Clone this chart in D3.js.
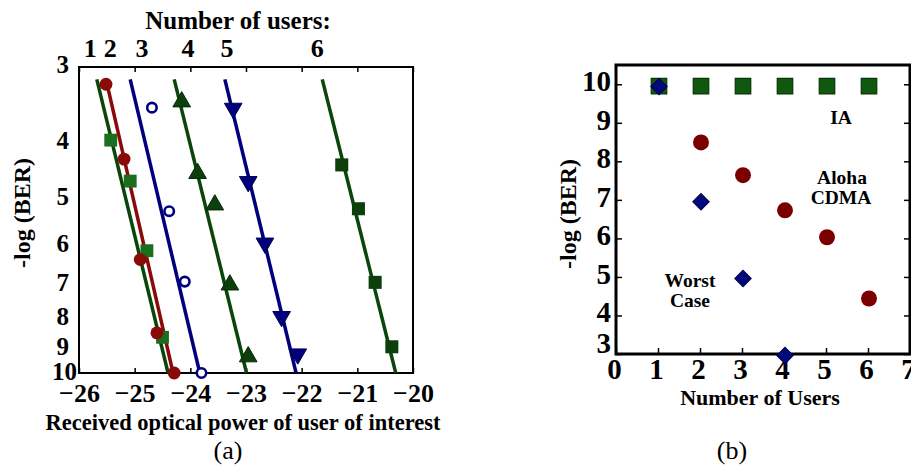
<!DOCTYPE html>
<html><head><meta charset="utf-8">
<script src="https://cdn.jsdelivr.net/npm/d3@7"></script>
<style>
body{margin:0;background:#fff}
text{font-family:"Liberation Serif","Times New Roman",serif;font-weight:bold;fill:#000}
</style></head>
<body><svg id="c" width="911" height="468"></svg>
<script>
// ---------- Panel (a) data ----------
const leftXTicks = [-26,-25,-24,-23,-22,-21,-20];
const leftYTicks = [3,4,5,6,7,8,9,10];
const userLabels = ["1","2","3","4","5","6"];
const userLabelPos = [-25.80,-25.44,-24.87,-24.04,-23.34,-21.72];
const lineUsers = [1,2,3,4,5,6];
const lineTopX = [-25.68,-25.515,-25.08,-24.29,-23.38,-21.63];
const lineBottomX = [-24.40,-24.31,-23.83,-22.99,-22.10,-20.31];
const lineYRange = [3.15,10];
const u1X = [-25.43,-25.08,-24.78,-24.50];
const u1Y = [4.0,4.70,6.18,8.69];
const u2X = [-25.515,-25.19,-24.90,-24.60,-24.29];
const u2Y = [3.21,4.31,6.40,8.54,10];
const u3X = [-24.69,-24.38,-24.10,-23.80];
const u3Y = [3.52,5.29,6.98,10];
const u4X = [-24.155,-23.87,-23.56,-23.29,-22.96];
const u4Y = [3.44,4.56,5.16,7.07,9.38];
const u5X = [-23.23,-22.96,-22.66,-22.36,-22.07];
const u5Y = [3.53,4.71,6.0,8.01,9.28];
const u6X = [-21.28,-20.98,-20.68,-20.38];
const u6Y = [4.41,5.24,7.0,9.02];

// ---------- Panel (b) data ----------
const rightXTicks = [0,1,2,3,4,5,6,7];
const rightYTicks = [3,4,5,6,7,8,9,10];
const iaX = [1,2,3,4,5,6];
const iaY = [9.95,9.95,9.95,9.95,9.95,9.95];
const alohaX = [2,3,4,5,6];
const alohaY = [8.49,7.64,6.73,6.03,4.44];
const worstX = [1,2,3,4];
const worstY = [9.94,6.95,4.96,2.96];

const GREEN_LINE = "#0a450a", GREEN_LIGHT = "#1b6e1b", GREEN_DARK = "#0b3f0b";
const RED = "#8a0a0a", BLUE = "#00007d";

const svg = d3.select("#c");

// ================= Panel (a) =================
const xL = d3.scaleLinear().domain([-26,-20]).range([79,413]);
const yL = d3.scaleLog().domain([3,10]).range([67,373]);
const gA = svg.append("g");

const axB = gA.append("g").attr("transform","translate(0,373)")
  .call(d3.axisBottom(xL).tickValues(leftXTicks).tickFormat(d3.format("d")).tickSizeInner(-5).tickSizeOuter(0).tickPadding(11));
axB.selectAll("text").style("font-size","26px");
gA.append("g").attr("transform","translate(0,67)")
  .call(d3.axisTop(xL).tickValues(leftXTicks).tickFormat("").tickSizeInner(-5).tickSizeOuter(0));
gA.append("g").attr("transform","translate(79,0)")
  .call(d3.axisLeft(yL).tickValues(leftYTicks).tickFormat(d3.format("d")).tickSize(0).tickPadding(10))
  .selectAll("text").style("font-size","25px")
  .attr("dx",d=>d===10?"8":"0").attr("dy",d=>d===10?"0.24em":(d===3?"0.2em":"0.32em"));
gA.selectAll(".domain").remove();
gA.selectAll(".tick line").attr("stroke","#000").attr("stroke-width",1.5);
gA.append("rect").attr("x",79).attr("y",67).attr("width",334).attr("height",306)
  .attr("fill","none").attr("stroke","#000").attr("stroke-width",2);

const lineColors = [GREEN_LINE,RED,BLUE,GREEN_LINE,BLUE,GREEN_LINE];
lineUsers.forEach((u,i)=>{
  gA.append("line")
    .attr("x1",xL(lineTopX[i])).attr("y1",yL(lineYRange[0]))
    .attr("x2",xL(lineBottomX[i])).attr("y2",yL(lineYRange[1]))
    .attr("stroke",lineColors[i]).attr("stroke-width",3.5);
});

function sym(g, xs, ys, type, size, fill, stroke, sw, rot){
  g.selectAll(null).data(xs.map((x,i)=>[x,ys[i]])).enter().append("path")
    .attr("d", d3.symbol().type(type).size(size)())
    .attr("transform", d=>`translate(${xL(d[0])},${yL(d[1])})${rot?` rotate(${rot})`:""}`)
    .attr("fill",fill).attr("stroke",stroke).attr("stroke-width",sw);
}
sym(gA,u1X,u1Y,d3.symbolSquare,165,GREEN_LIGHT,"none",0);
sym(gA,u2X,u2Y,d3.symbolCircle,130,RED,"none",0);
sym(gA,u3X,u3Y,d3.symbolCircle,70,"#fff",BLUE,2.6);
sym(gA,u4X,u4Y,d3.symbolTriangle,135,GREEN_DARK,"#062a06",1);
sym(gA,u5X,u5Y,d3.symbolTriangle,135,BLUE,"#000050",1,180);
sym(gA,u6X,u6Y,d3.symbolSquare,170,GREEN_DARK,"none",0);

gA.selectAll(null).data(userLabels).enter().append("text")
  .attr("x",(d,i)=>xL(userLabelPos[i])).attr("y",57).attr("text-anchor","middle")
  .style("font-size","26px").text(d=>d);
gA.append("text").attr("x",238).attr("y",29).attr("text-anchor","middle")
  .style("font-size","25px").text("Number of users:");
gA.append("text").attr("transform","translate(22,213) rotate(-90)").attr("dy","0.35em")
  .attr("text-anchor","middle").style("font-size","24px").text("-log (BER)");
gA.append("text").attr("x",243).attr("y",430).attr("text-anchor","middle")
  .style("font-size","22.5px").text("Received optical power of user of interest");
gA.append("text").attr("x",228).attr("y",459).attr("text-anchor","middle")
  .style("font-size","26px").style("font-weight","normal").text("(a)");

// ================= Panel (b) =================
const xR = d3.scaleLinear().domain([0,7]).range([616,910]);
const yR = d3.scaleLinear().domain([3,10.5]).range([354,65]);
const gB = svg.append("g");
gB.append("g").attr("transform","translate(0,354)")
  .call(d3.axisBottom(xR).tickValues(rightXTicks).tickFormat(d3.format("d")).tickSizeInner(-6).tickSizeOuter(0).tickPadding(4))
  .selectAll("text").style("font-size","29px").attr("dx","-2");
gB.append("g").attr("transform","translate(616,0)")
  .call(d3.axisLeft(yR).tickValues(rightYTicks).tickFormat(d3.format("d")).tickSizeInner(-6).tickSizeOuter(0).tickPadding(5))
  .selectAll("text").style("font-size","29px").attr("dy",d=>d===3?"-0.05em":"0.22em");
gB.append("g").attr("transform","translate(910,0)")
  .call(d3.axisRight(yR).tickValues(rightYTicks).tickFormat("").tickSizeInner(-6).tickSizeOuter(0));
gB.selectAll(".domain").remove();
gB.selectAll(".tick line").attr("stroke","#000").attr("stroke-width",1.5);
gB.append("rect").attr("x",616).attr("y",65).attr("width",294).attr("height",289)
  .attr("fill","none").attr("stroke","#000").attr("stroke-width",3);

function symR(xs, ys, type, size, fill, stroke, sw, rot){
  gB.selectAll(null).data(xs.map((x,i)=>[x,ys[i]])).enter().append("path")
    .attr("d", d3.symbol().type(type).size(size)())
    .attr("transform", d=>`translate(${xR(d[0])+1},${yR(d[1])})${rot?` rotate(${rot})`:""}`)
    .attr("fill",fill).attr("stroke",stroke).attr("stroke-width",sw);
}
symR(iaX,iaY,d3.symbolSquare,240,"#0f590f","#093509",1.2);
symR(alohaX,alohaY,d3.symbolCircle,200,"#7a0000","none",0);
symR(worstX,worstY,d3.symbolSquare,135,"#000a7a","#00004a",1,45);

const ann = [["IA",841,124],["Aloha",842,184],["CDMA",841,204],["Worst",690,287],["Case",690,307]];
ann.forEach(a=>gB.append("text").attr("x",a[1]).attr("y",a[2]).attr("text-anchor","middle")
  .style("font-size","19.5px").text(a[0]));
gB.append("text").attr("transform","translate(568,214) rotate(-90)").attr("dy","0.35em")
  .attr("text-anchor","middle").style("font-size","24px").text("-log (BER)");
gB.append("text").attr("x",760).attr("y",405).attr("text-anchor","middle")
  .style("font-size","22px").text("Number of Users");
gB.append("text").attr("x",732).attr("y",459).attr("text-anchor","middle")
  .style("font-size","26px").style("font-weight","normal").text("(b)");
</script></body></html>
